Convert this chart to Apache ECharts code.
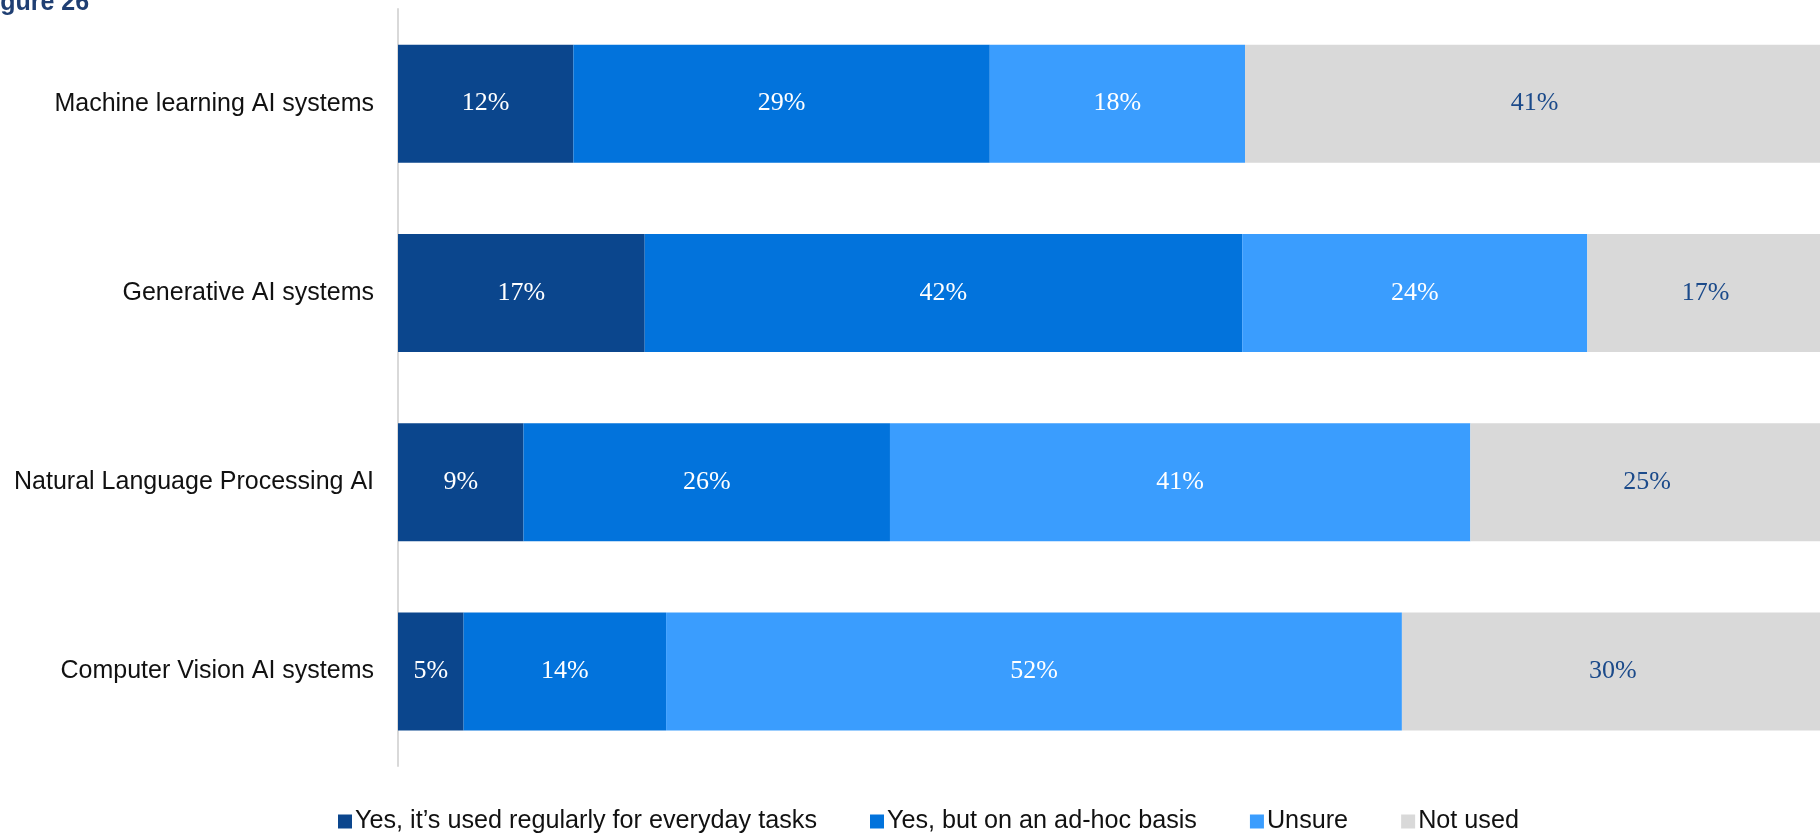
<!DOCTYPE html>
<html>
<head>
<meta charset="utf-8">
<script src="https://cdn.jsdelivr.net/npm/echarts@6/dist/echarts.min.js"></script>
<style>
  html, body { margin: 0; padding: 0; background: #ffffff; overflow: hidden; }
  #chart { width: 1824px; height: 833px; }
</style>
</head>
<body>
<div id="chart"></div>
<script>
// AI system usage by type (share of respondents, %)
const categories = [
  'Machine learning AI systems',
  'Generative AI systems',
  'Natural Language Processing AI',
  'Computer Vision AI systems'
];
const seriesNames = [
  'Yes, it\u2019s used regularly for everyday tasks',
  'Yes, but on an ad-hoc basis',
  'Unsure',
  'Not used'
];
const usedRegularly = [12.3, 17.3, 8.8, 4.6];
const usedAdHoc     = [29.2, 41.9, 25.7, 14.2];
const unsure        = [17.9, 24.2, 40.7, 51.6];
const notUsed       = [40.6, 16.6, 24.8, 29.6];

const colors = ['#0B468D', '#0273DC', '#3A9DFE', '#D9D9D9'];
const labelColors = ['#ffffff', '#ffffff', '#ffffff', '#1B4A8A'];
const values = [usedRegularly, usedAdHoc, unsure, notUsed];

const chart = echarts.init(document.getElementById('chart'));

const series = seriesNames.map((name, i) => ({
  name: name,
  type: 'bar',
  stack: 'total',
  barWidth: 118,
  data: values[i],
  itemStyle: { color: colors[i] },
  label: {
    show: true,
    position: 'inside',
    color: labelColors[i],
    fontFamily: '"Liberation Serif", "DejaVu Serif", serif',
    fontSize: 26,
    formatter: p => Math.round(p.value) + '%'
  },
  emphasis: { disabled: true }
}));

chart.setOption({
  animation: false,
  backgroundColor: '#ffffff',
  textStyle: { fontFamily: '"Liberation Sans", Arial, sans-serif' },
  graphic: [{
    type: 'text',
    left: -22,
    top: -9,
    style: {
      text: 'Figure 26',
      fill: '#1F3F73',
      font: 'bold 25px "Liberation Sans", Arial, sans-serif'
    }
  }],
  legend: {
    left: 333,
    top: 804,
    itemWidth: 14,
    itemHeight: 14,
    itemGap: 53,
    icon: 'rect',
    textStyle: {
      fontSize: 25.2,
      color: '#111111',
      padding: [0, 0, 0, -2]
    },
    data: seriesNames
  },
  grid: {
    left: 398,
    right: 0,
    top: 9,
    bottom: 67,
    containLabel: false
  },
  xAxis: {
    type: 'value',
    min: 0,
    max: 100,
    show: false
  },
  yAxis: {
    type: 'category',
    inverse: true,
    data: categories,
    axisLine: { show: true, lineStyle: { color: '#D9D9D9', width: 2 } },
    axisTick: { show: false },
    axisLabel: {
      margin: 24,
      fontSize: 25,
      color: '#111111'
    }
  },
  series: series
});
</script>
</body>
</html>
